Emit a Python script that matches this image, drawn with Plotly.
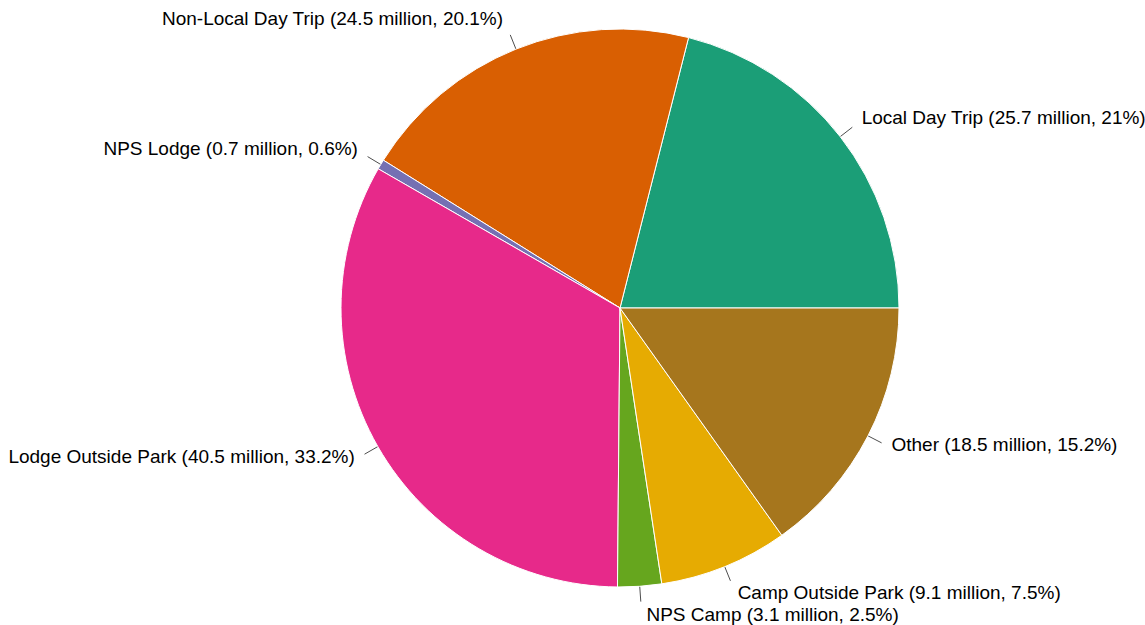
import numpy as np
import plotly.graph_objects as go

categories = ["Local Day Trip", "Non-Local Day Trip", "NPS Lodge", "Lodge Outside Park",
              "NPS Camp", "Camp Outside Park", "Other"]
visits_million = [25.7, 24.5, 0.7, 40.5, 3.1, 9.1, 18.5]
percent_labels = ["21%", "20.1%", "0.6%", "33.2%", "2.5%", "7.5%", "15.2%"]
colors = ["#1b9e77", "#d95f02", "#7570b3", "#e7298a", "#66a61e", "#e6ab02", "#a6761d"]

texts = [f"{c} ({v} million, {p})" for c, v, p in zip(categories, visits_million, percent_labels)]

W, H = 1145, 625
# pie geometry (layout, pixels): centre and radii
CX, CY = 620, 308
LABEL_CY = 305.5
R_PIE = 279
R_LABEL = 299.5
R_POLAR = 307
POLAR_MAX = R_POLAR / R_PIE


def dom(r, cy=CY):
    return dict(x=[(CX - r) / W, (CX + r) / W],
                y=[(H - cy - r) / H, (H - cy + r) / H])


# plotly places the first slice clockwise of `rotation` when direction is counterclockwise;
# shift so the first slice starts at 3 o'clock and runs counterclockwise
total = sum(visits_million)
first_share_deg = 360 * visits_million[0] / total
rotation = 90 - first_share_deg

# mid-angle of each slice (degrees, counterclockwise from 3 o'clock) for leader lines
vals = np.array(visits_million)
mid_deg = (np.cumsum(vals) - vals / 2) / total * 360
line_r, line_theta = [], []
for m in mid_deg:
    line_r += [1.0, 1.055, None]
    line_theta += [float(m), float(m), None]

fig = go.Figure()

# transparent pie carrying the outside labels (slightly larger so labels sit away from the pie)
fig.add_trace(go.Pie(
    labels=categories,
    values=visits_million,
    text=texts,
    textinfo="text",
    textposition="outside",
    sort=False,
    direction="counterclockwise",
    rotation=rotation,
    domain=dom(R_LABEL, LABEL_CY),
    marker=dict(colors=["rgba(0,0,0,0)"] * len(categories), line=dict(width=0)),
    textfont=dict(family="Arial, Liberation Sans, sans-serif", size=19, color="#000000"),
    showlegend=False,
    hoverinfo="skip",
))

# visible pie
fig.add_trace(go.Pie(
    labels=categories,
    values=visits_million,
    text=texts,
    textinfo="none",
    sort=False,
    direction="counterclockwise",
    rotation=rotation,
    domain=dom(R_PIE),
    marker=dict(colors=colors, line=dict(color="white", width=1)),
    showlegend=False,
    hoverinfo="text",
))

# leader lines
fig.add_trace(go.Scatterpolar(
    r=line_r, theta=line_theta, mode="lines",
    line=dict(color="#4d4d4d", width=1),
    hoverinfo="skip", showlegend=False,
    connectgaps=False,
))

fig.update_layout(
    width=W, height=H,
    margin=dict(l=0, r=0, t=0, b=0, pad=0, autoexpand=False),
    paper_bgcolor="white",
    plot_bgcolor="white",
    polar=dict(
        domain=dom(R_POLAR),
        bgcolor="rgba(0,0,0,0)",
        radialaxis=dict(visible=False, range=[0, POLAR_MAX]),
        angularaxis=dict(visible=False, rotation=0, direction="counterclockwise"),
    ),
)

fig.write_html("out.html")
